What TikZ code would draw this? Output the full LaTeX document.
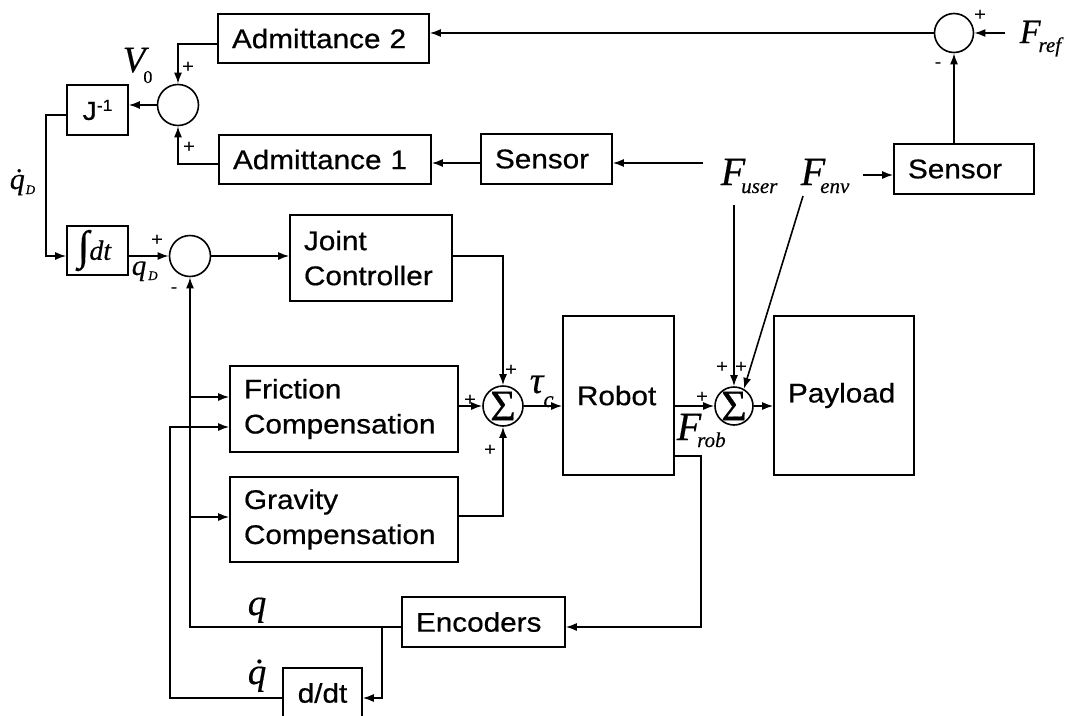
\documentclass[tikz,border=0pt]{standalone}
\usepackage{fontspec}
\setmainfont{Liberation Sans}[FakeStretch=1.1,FakeBold=0.6]
\newfontfamily\tms{Liberation Serif}[FakeBold=0.4]
\usetikzlibrary{arrows.meta}
\newcommand\mysz[1]{\fontsize{#1}{#1}\selectfont}
\begin{document}
\begin{tikzpicture}[x=1pt,y=-1pt, line width=1.6pt,
  arr/.style={-{Latex[length=11pt,width=8pt]}},
  blk/.style={draw, rectangle, inner xsep=14pt, inner ysep=0pt, align=left, font=\fontsize{27}{35}\selectfont},
  blk0/.style={draw, rectangle, inner sep=0pt, font=\fontsize{27}{35}\selectfont},
  sumc/.style={draw, circle, minimum size=41pt, inner sep=0pt},
  sigl/.style={inner sep=0pt, font=\tms\mysz{44}},
  sgn/.style={inner sep=0pt, font=\mysz{18}},
  lbl/.style={inner sep=0pt, anchor=base west}]
\useasboundingbox (0,0) rectangle (1068,715);
\clip (0,0) rectangle (1068,715);

% blocks
\node[blk, text width=183pt, minimum height=49pt] (adm2) at (323.5,38.5) {Admittance 2};
\node[blk, text width=184pt, minimum height=49pt] (adm1) at (325,159.5) {Admittance 1};
\node[blk, text width=103pt, minimum height=50pt] (sen1) at (546.5,159) {Sensor};
\node[blk, text width=112pt, minimum height=50pt] (sen2) at (964,169) {Sensor};
\node[blk0, minimum width=61pt, minimum height=50pt] (jinv) at (97.5,110) {\mysz{26}J\raisebox{9pt}{\mysz{16}-1}};
\node[blk0, minimum width=61pt, minimum height=49pt] (integ) at (97.5,250.5) {{\tms\mysz{42}∫}{\tms\itshape\mysz{28}dt}\hspace*{6pt}};
\node[blk, text width=134pt, minimum height=86pt] (joint) at (371,258) {Joint\\Controller};
\node[blk, text width=200pt, minimum height=86pt] (fric) at (344,409) {Friction\\Compensation};
\node[blk, text width=200pt, minimum height=85pt] (grav) at (344,519.5) {Gravity\\Compensation};
\node[blk, text width=83pt, minimum height=159pt] (robot) at (618.5,395.5) {Robot};
\node[blk, text width=112pt, minimum height=159pt] (payload) at (844,395.5) {Payload};
\node[blk, text width=135pt, minimum height=50pt] (enc) at (483.5,622) {Encoders};
\node[blk0, minimum width=79pt, minimum height=50pt] (ddt) at (322.5,693) {d/dt};

% summing junctions
\node[sumc] (sv) at (178,105) {};
\node[sumc] (se) at (190,256) {};
\node[sumc, minimum size=40pt, label={[sigl]center:Σ}] (s1) at (503,406) {};
\node[sumc, minimum size=38pt, label={[sigl]center:Σ}] (s2) at (734,406) {};
\node[sumc, minimum size=39pt] (sr) at (954,33) {};

% connectors
\draw[arr] (sr.west) -- (adm2.east |- sr.west);
\coordinate (cref) at (1005,33);
\draw[arr] (cref) -- (sr.east);
\draw[arr] (sr.south |- sen2.north) -- (sr.south);
\coordinate (cenv) at (863,175);
\draw[arr] (cenv) -- (sen2.west |- cenv);
\coordinate (cusr) at (703,163);
\draw[arr] (cusr) -- (sen1.east |- cusr);
\draw[arr] (sen1.west |- cusr) -- (adm1.east |- cusr);
\draw[arr] ([yshift=-5.5pt]adm2.west) -| (sv.north);
\draw[arr] ([yshift=-4.5pt]adm1.west) -| (sv.south);
\draw[arr] (sv.west) -- (jinv.east |- sv.west);
\draw[arr] ([yshift=-5pt]jinv.west) -- ++(-20,0) |- (integ.west |- se.west);
\draw[arr] (integ.east |- se.west) -- (se.west);
\draw[arr] (se.east) -- (joint.west |- se.east);
\draw[arr] (joint.east |- se.east) -| (s1.north);
\draw[arr] (fric.east |- s1.west) -- (s1.west);
\draw[arr] ([yshift=3.5pt]grav.east) -| (s1.south);
\draw[arr] (s1.east) -- (robot.west |- s1.east);
\draw[arr] (robot.east |- s2.west) -- (s2.west);
\draw[arr] (s2.east) -- (payload.west |- s2.east);
\coordinate (cusr2) at (734,205);
\draw[arr] (cusr2) -- (s2.north);
\coordinate (cenv2) at (803,196);
\draw[arr] (cenv2) -- (s2.60);
\draw[arr] ([yshift=-60.5pt]robot.east) -- ++(26,0) |- ([yshift=-5pt]enc.east);
\draw[arr] ([yshift=-5pt]enc.west) -| (se.south);
\coordinate (jq) at (382,627);
\coordinate (yd) at (0,698);
\draw[arr] (jq) |- (ddt.east |- yd);
\draw[arr] (ddt.west |- yd) -- ++(-112,0) |- ([yshift=-18pt]fric.west);
\coordinate (f1) at ([yshift=12pt]fric.west);
\draw[arr] (se.south |- f1) -- (f1);
\coordinate (g1) at ([yshift=2.5pt]grav.west);
\draw[arr] (se.south |- g1) -- (g1);

% signs
\node[sgn] (p1) at (188,67) {+};
\node[sgn] (p2) at (189,147) {+};
\node[sgn] (p3) at (157,240) {+};
\node[sgn] (m1) at (174,290) {-};
\node[sgn] (p4) at (511,370) {+};
\node[sgn] (p5) at (470,400) {+};
\node[sgn] (p6) at (490,450) {+};
\node[sgn] (p7) at (722,367) {+};
\node[sgn] (p8) at (741,367) {+};
\node[sgn] (p9) at (702,397) {+};
\node[sgn] (p10) at (980,15) {+};
\node[sgn] (m2) at (938,65) {-};

% labels
\node[lbl] (v0) at (122,72) {\tms\itshape\mysz{37}V\kern-2pt\raisebox{-11pt}{\upshape\mysz{18}0}};
\node[lbl] (fuser) at (720,185) {\tms\itshape\mysz{40}F\kern-4pt\raisebox{-8pt}{\mysz{21}user}};
\node[lbl] (fenv) at (800,185) {\tms\itshape\mysz{40}F\kern-5pt\raisebox{-8pt}{\mysz{21}env}};
\node[lbl] (frob) at (676,440) {\tms\itshape\mysz{40}F\kern-4pt\raisebox{-7pt}{\mysz{21}rob}};
\node[lbl] (fref) at (1019,43) {\tms\itshape\mysz{34}F\kern-2pt\raisebox{-9pt}{\mysz{21}ref}};
\node[lbl] (qd) at (131,275) {\tms\itshape\mysz{29}q\kern2pt\raisebox{-5pt}{\mysz{13}D}};
\node[lbl] (dqd) at (9,189) {\tms\itshape\mysz{30}\accent"02D9 q\kern1pt\raisebox{-5pt}{\mysz{13}D}};
\node[lbl] (ql) at (247,615) {\tms\itshape\mysz{37}q};
\node[lbl] (dql) at (247,684) {\tms\itshape\mysz{37}\accent"02D9 q};
\node[lbl] (tauc) at (529,393) {\tms\itshape\mysz{38}τ\kern0pt\raisebox{-14pt}{\mysz{23}c}};
\end{tikzpicture}
\end{document}
